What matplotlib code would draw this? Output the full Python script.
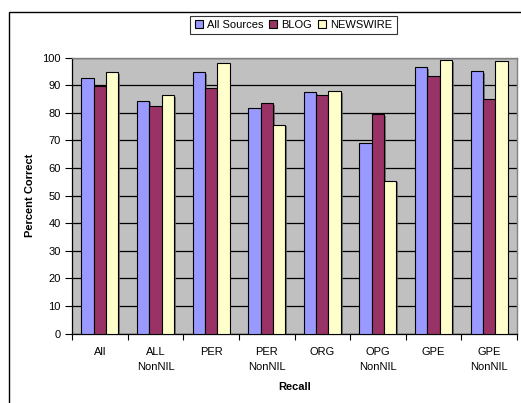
import numpy as np
import matplotlib
matplotlib.use("Agg")
import matplotlib.pyplot as plt
import matplotlib.patheffects as pe
from matplotlib.patches import Rectangle

plt.rcParams['font.family'] = ['Liberation Sans', 'DejaVu Sans']

categories = ["All", "ALL\nNonNIL", "PER", "PER\nNonNIL", "ORG", "OPG\nNonNIL", "GPE", "GPE\nNonNIL"]
all_sources = [92.7, 84.3, 94.7, 81.6, 87.4, 68.9, 96.4, 95.0]
blog = [89.7, 82.3, 88.8, 83.4, 86.3, 79.4, 93.4, 85.1]
newswire = [94.7, 86.4, 97.9, 75.7, 87.7, 55.4, 99.0, 98.6]
series_names = ["All Sources", "BLOG", "NEWSWIRE"]
colors = ["#9999FF", "#993366", "#FFFFCC"]


def main():
    fig = plt.figure(figsize=(5.21, 4.03), dpi=100)
    # chart frame, partly cut off at the right and bottom
    fig.patches.append(Rectangle((8.5 / 521, -0.1), 1.2, 1 - 11.5 / 403 + 0.1,
                                 transform=fig.transFigure, fill=False,
                                 edgecolor="black", linewidth=1.0))

    ax = fig.add_axes([72 / 521, 1 - 333.5 / 403, 445 / 521, 276 / 403])
    ax.set_facecolor("#C0C0C0")

    x = np.arange(len(categories))
    width = 0.222
    shadow = [pe.SimplePatchShadow(offset=(1.2, -1.2), shadow_rgbFace="#606060", alpha=0.8), pe.Normal()]
    bars = []
    for i, (vals, col) in enumerate(zip([all_sources, blog, newswire], colors)):
        b = ax.bar(x + (i - 1) * width, vals, width, color=col, edgecolor="black",
                   linewidth=0.8, zorder=3, label=series_names[i])
        for p in b:
            p.set_path_effects(shadow)
        bars.append(b)

    ax.set_xlim(-0.5, len(categories) - 0.5)
    ax.set_ylim(0, 100)
    ax.set_yticks(np.arange(0, 101, 10))
    ax.yaxis.grid(True, color="black", linewidth=0.9)
    ax.set_axisbelow(True)

    ax.set_xticks(x)
    ax.set_xticklabels(categories, fontsize=8, linespacing=1.55, va="top")
    ax.set_xticks(np.arange(-0.5, len(categories)), minor=True)
    ax.tick_params(axis="x", which="major", length=0, pad=10)
    ax.tick_params(axis="x", which="minor", length=4, width=0.8, color="black")
    ax.tick_params(axis="y", length=5, width=0.8, labelsize=8, pad=3, color="black")

    for side in ["top", "right"]:
        ax.spines[side].set_color("#808080")
        ax.spines[side].set_linewidth(1.0)
    for side in ["left", "bottom"]:
        ax.spines[side].set_color("black")
        ax.spines[side].set_linewidth(0.9)

    ax.set_ylabel("Percent Correct", fontsize=8, fontweight="bold", labelpad=5)
    ax.set_xlabel("Recall", fontsize=8, fontweight="bold", labelpad=7)

    leg = fig.legend(handles=bars, labels=series_names, loc="center",
                     bbox_to_anchor=(293.5 / 521, 1 - 25 / 403), ncol=3,
                     fontsize=8, frameon=True, fancybox=False,
                     handlelength=0.7, handleheight=0.7, handletextpad=0.4,
                     columnspacing=0.5, borderpad=0.4, borderaxespad=0)
    leg.get_frame().set_edgecolor("black")
    leg.get_frame().set_linewidth(0.8)
    for h in leg.legend_handles:
        h.set_path_effects([])

    fig.savefig("out.png", dpi=100)


if __name__ == "__main__":
    main()
